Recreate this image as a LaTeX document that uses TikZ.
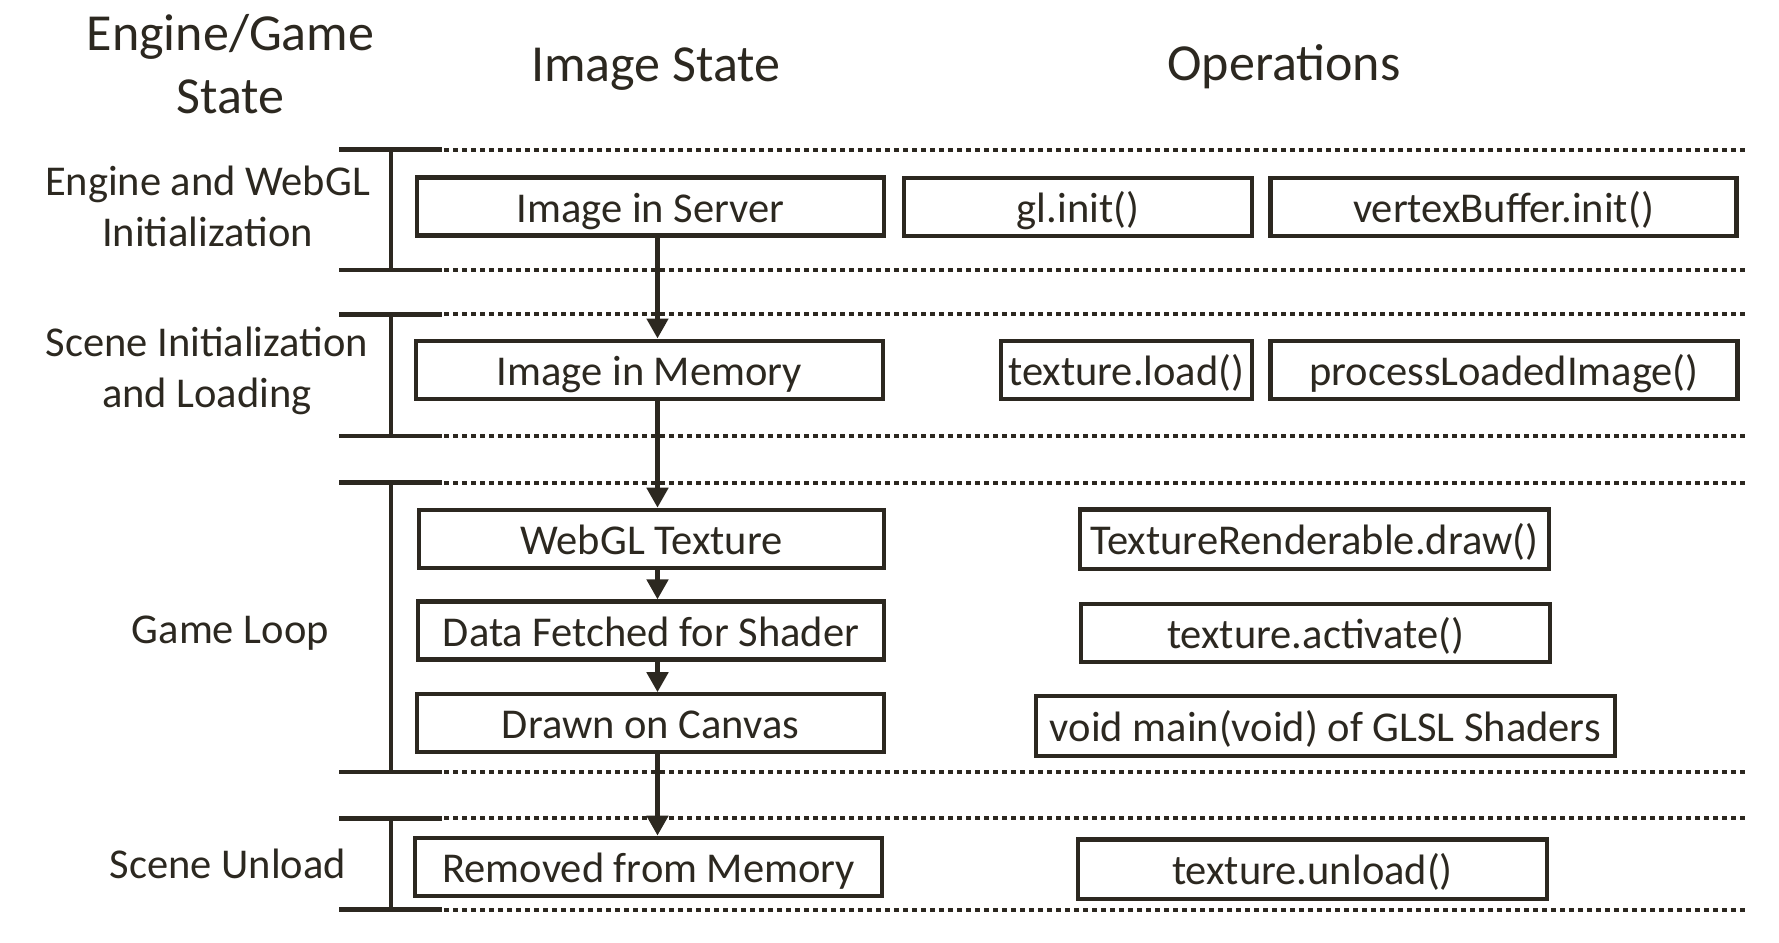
\documentclass[tikz,border=0pt]{standalone}
\usepackage{fontspec}
\setmainfont{Carlito}
\usetikzlibrary{arrows.meta}
\definecolor{ink}{RGB}{44,40,32}
\newcommand\bodyfont{\fontsize{42.5pt}{51pt}\selectfont}
\newcommand\headfont{\fontsize{52pt}{62.6pt}\selectfont}
\begin{document}
\begin{tikzpicture}[x=1pt,y=-1pt,
  box/.style={draw=ink, line width=4.2pt, rectangle, inner sep=0pt,
    minimum height=58pt, text=ink, font=\bodyfont,
    text height=31pt, text depth=0pt},
  hdr/.style={text=ink, font=\headfont, inner sep=0pt},
  lbl/.style={text=ink, font=\bodyfont, inner sep=0pt},
  bar/.style={draw=ink, line width=4.5pt},
  stem/.style={draw=ink, line width=4.6pt},
  dots/.style={draw=ink, line width=4pt, dash pattern=on 4.5pt off 4.5pt},
  arr/.style={draw=ink, line width=4.8pt, -{Triangle[length=20pt,width=21pt]}}
]
\useasboundingbox (0,0) rectangle (1779,942);

% headers (base = baseline of the last line)
\node[hdr, anchor=base, align=center] (hA) at (230.5,113.3) {Engine/Game\\State};
\node[hdr, anchor=base] (hB) at (655.6,81.7) {Image State};
\node[hdr, anchor=base] (hC) at (1284,80) {Operations};

% left labels
\node[lbl, anchor=base, align=center] (l1) at (207.5,246) {Engine and WebGL\\Initialization};
\node[lbl, anchor=base, align=center] (l2) at (207,407.3) {Scene Initialization\\and Loading};
\node[lbl, anchor=base] (l3) at (230.3,643.3) {Game Loop};
\node[lbl, anchor=base] (l4) at (228,878.3) {Scene Unload};

% brackets and dotted separators
\foreach \t/\b in {149.5/270, 314.3/436, 482.7/772, 818.3/909.5} {
  \draw[bar] (339.3,\t) -- (441.7,\t);
  \draw[bar] (339.3,\b) -- (441.7,\b);
  \draw[stem] (391,\t) -- (391,\b);
  \draw[dots] (444,\t) -- (1748,\t);
  \draw[dots] (444,\b) -- (1748,\b);
}

% image state column
\node[box, minimum width=467pt] (srv) at (650.5,206.5) {Image in Server};
\node[box, minimum width=467pt] (mem) at (649.5,369.6) {Image in Memory};
\node[box, minimum width=465pt] (tex) at (651.5,538.8) {WebGL Texture};
\node[box, minimum width=466pt] (dat) at (651,630.5) {Data Fetched for Shader};
\node[box, minimum width=467pt] (drw) at (650.5,723.3) {Drawn on Canvas};
\node[box, minimum width=467pt] (rem) at (648.7,866.7) {Removed from Memory};

% operations
\node[box, minimum width=348pt] (gl) at (1078,206.9) {gl.init()};
\node[box, minimum width=466pt] (vb) at (1503.5,206.9) {vertexBuffer.init()};
\node[box, minimum width=251pt] (tl) at (1126.3,369.7) {texture.load()};
\node[box, minimum width=467pt] (pli) at (1504,369.7) {processLoadedImage()};
\node[box, minimum width=469pt, minimum height=59.5pt] (trd) at (1314.3,539.2) {TextureRenderable.draw()};
\node[box, minimum width=469pt] (act) at (1315.5,632.7) {texture.activate()};
\node[box, minimum width=579pt, minimum height=60pt] (vm) at (1325.4,726) {void main(void) of GLSL Shaders};
\node[box, minimum width=469pt, minimum height=59.5pt] (unl) at (1312.5,869.2) {texture.unload()};

% arrows
\coordinate (ax) at (657.5,0);
\draw[arr] (srv.south -| ax) -- (mem.north -| ax);
\draw[arr] (mem.south -| ax) -- (tex.north -| ax);
\draw[arr] (tex.south -| ax) -- (dat.north -| ax);
\draw[arr] (dat.south -| ax) -- (drw.north -| ax);
\draw[arr] (drw.south -| ax) -- (rem.north -| ax);
\end{tikzpicture}
\end{document}
